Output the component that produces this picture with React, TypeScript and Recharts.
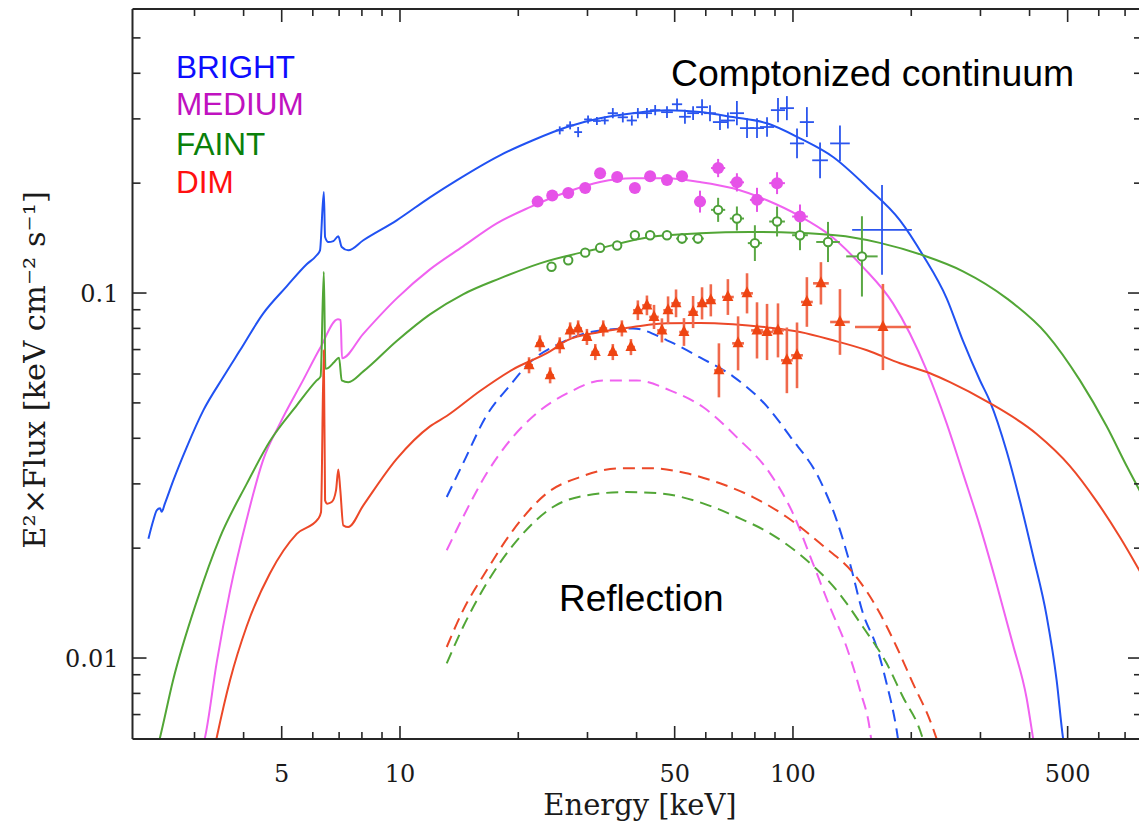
import React from "react";
import { ComposedChart, Line, Scatter, XAxis, YAxis, ErrorBar } from "recharts";

// ---- axes -------------------------------------------------------------
const X_DOMAIN: [number, number] = [2.086, 773];
const Y_DOMAIN: [number, number] = [0.006, 0.6];
const X_MAJOR = [5, 10, 50, 100, 500];
const X_MINOR = [3, 4, 6, 7, 8, 9, 20, 30, 40, 60, 70, 80, 90, 200, 300, 400, 600, 700];
const Y_MAJOR = [0.01, 0.1];
const Y_MINOR = [0.007, 0.008, 0.009, 0.02, 0.03, 0.04, 0.05, 0.06, 0.07, 0.08, 0.09, 0.2, 0.3, 0.4, 0.5];
const X_TICK_LABELS: Record<number, string> = { 5: "5", 10: "10", 50: "50", 100: "100", 500: "500" };
const Y_TICK_LABELS: Record<number, string> = { 0.01: "0.01", 0.1: "0.1" };

// ---- model curves: total (Comptonized continuum + Fe line) -------------
const BRIGHT_MODEL_E = [2.29, 2.357, 2.404, 2.451, 2.475, 2.523, 2.65, 2.867, 3.159, 3.551, 3.917, 4.489, 5.148, 5.788, 6.138, 6.258, 6.4, 6.447, 6.572, 6.767, 6.966, 7.107, 7.386, 8.066, 9.81, 11.92, 13.94, 17.97, 21.8, 26.61, 32.28, 39.16, 47.8, 58.0, 70.37, 85.87, 104.2, 126.5, 154.3, 187.2, 214.2, 246.1, 270.8, 299.2, 317.1, 349.9, 378.2, 408.0, 442.1, 468.8, 486.4, 492];
const BRIGHT_MODEL_F = [0.02122, 0.02384, 0.02539, 0.02571, 0.02515, 0.02653, 0.03068, 0.03785, 0.0477, 0.05887, 0.06966, 0.08798, 0.1043, 0.1199, 0.1269, 0.1309, 0.1891, 0.1424, 0.1379, 0.1388, 0.143, 0.1337, 0.1309, 0.1395, 0.1582, 0.1829, 0.2036, 0.2384, 0.2621, 0.2849, 0.301, 0.3107, 0.3166, 0.3133, 0.3034, 0.2917, 0.2653, 0.2358, 0.1952, 0.1582, 0.1269, 0.0967, 0.0739, 0.0576, 0.0505, 0.0368, 0.02687, 0.01912, 0.01303, 0.00869, 0.00606, 0.00558];

const MEDIUM_MODEL_E = [3.153, 3.19, 3.417, 3.694, 4.073, 4.481, 4.951, 5.665, 6.258, 6.95, 7.06, 7.12, 8.053, 9.81, 11.92, 14.47, 17.63, 21.42, 26.61, 32.28, 39.16, 47.8, 58.0, 70.37, 85.87, 104.2, 124.2, 150.7, 179.7, 218.9, 246.1, 270.8, 299.2, 329.7, 362.8, 393.2, 408.0, 412.8];
const MEDIUM_MODEL_F = [0.00576, 0.00606, 0.00973, 0.01527, 0.02399, 0.0348, 0.04395, 0.05763, 0.07055, 0.0847, 0.0843, 0.0663, 0.0772, 0.0967, 0.1161, 0.1342, 0.1552, 0.1719, 0.1891, 0.2014, 0.2062, 0.2062, 0.2014, 0.1936, 0.1795, 0.1623, 0.1439, 0.1178, 0.0937, 0.0614, 0.04395, 0.03206, 0.02295, 0.01596, 0.0109, 0.00776, 0.00606, 0.00559];

const FAINT_MODEL_E = [2.422, 2.451, 2.645, 3.039, 3.483, 4.073, 4.669, 5.461, 6.138, 6.28, 6.4, 6.46, 6.572, 6.795, 6.996, 7.107, 7.386, 8.066, 9.81, 11.92, 14.47, 17.97, 22.71, 32.28, 43.26, 58.0, 77.73, 104.2, 139.6, 166.4, 214.2, 270.8, 349.9, 442.1, 537.4, 628.4, 706.6, 786.5];
const FAINT_MODEL_F = [0.00576, 0.00606, 0.00868, 0.0143, 0.02142, 0.03, 0.03931, 0.04924, 0.05763, 0.0591, 0.1143, 0.062, 0.0624, 0.0646, 0.0665, 0.05763, 0.057, 0.061, 0.0739, 0.0874, 0.0992, 0.1097, 0.1206, 0.1326, 0.1424, 0.1458, 0.147, 0.146, 0.1424, 0.1372, 0.1269, 0.1147, 0.0967, 0.0772, 0.05763, 0.04313, 0.03357, 0.02704];

const DIM_MODEL_E = [3.363, 3.417, 3.694, 4.073, 4.669, 5.461, 6.196, 6.295, 6.4, 6.447, 6.531, 6.702, 6.874, 6.966, 7.05, 7.173, 7.386, 8.066, 9.81, 11.92, 13.15, 15.98, 19.39, 24.08, 26.61, 32.28, 39.16, 47.8, 58.0, 70.37, 85.87, 104.2, 126.5, 154.3, 187.2, 223.2, 250.9, 311.1, 417.0, 506.8, 592.6, 679.5, 786.5];
const DIM_MODEL_F = [0.00559, 0.00606, 0.00869, 0.01222, 0.01707, 0.02188, 0.02409, 0.02507, 0.0697, 0.02704, 0.02648, 0.02675, 0.0288, 0.03283, 0.0288, 0.0231, 0.02285, 0.0262, 0.03512, 0.04313, 0.04603, 0.05389, 0.0618, 0.0692, 0.0742, 0.0782, 0.0807, 0.0826, 0.0828, 0.0821, 0.0805, 0.0782, 0.0742, 0.0697, 0.0642, 0.0603, 0.057, 0.0505, 0.0411, 0.03357, 0.02687, 0.02142, 0.01633];

// ---- reflection components (dashed) ------------------------------------
const BRIGHT_REFL_E = [13.15, 14.47, 16.62, 19.06, 21.42, 25.53, 32.28, 39.16, 47.8, 58.0, 70.37, 85.87, 98.3, 117.2, 129.2, 139.6, 150.7, 163.3, 173.1, 183.6, 186.1];
const BRIGHT_REFL_F = [0.02761, 0.03415, 0.04623, 0.05587, 0.0646, 0.0728, 0.079, 0.08, 0.0742, 0.0666, 0.0591, 0.0489, 0.0405, 0.03068, 0.02384, 0.01817, 0.01326, 0.01072, 0.00852, 0.00634, 0.00576];

const MEDIUM_REFL_E = [13.15, 14.47, 16.62, 19.06, 22.27, 27.07, 32.85, 40.03, 48.64, 59.02, 71.91, 87.4, 100.0, 112.4, 124.2, 136.9, 148.1, 157.0, 158.9];
const MEDIUM_REFL_F = [0.01973, 0.02434, 0.03206, 0.03948, 0.04682, 0.05356, 0.05763, 0.05763, 0.05413, 0.04871, 0.0403, 0.03206, 0.02491, 0.01817, 0.01379, 0.01072, 0.00816, 0.00634, 0.00576];

const DIM_REFL_E = [13.15, 14.47, 16.62, 19.39, 23.62, 28.71, 36.29, 44.04, 53.64, 65.2, 79.1, 96.4, 117.2, 145.1, 166.4, 183.6, 202.0, 223.2, 235.2];
const DIM_REFL_F = [0.01072, 0.01351, 0.01739, 0.02238, 0.02826, 0.03132, 0.0331, 0.0331, 0.03206, 0.03011, 0.02761, 0.02434, 0.02062, 0.01667, 0.01326, 0.01072, 0.00852, 0.00675, 0.00576];

const FAINT_REFL_E = [13.15, 14.47, 16.62, 20.2, 24.51, 29.87, 37.75, 45.87, 59.02, 71.91, 87.4, 106.0, 129.2, 150.7, 173.1, 190.5, 210.5, 216.7];
const FAINT_REFL_F = [0.00967, 0.01216, 0.01602, 0.02146, 0.02593, 0.02791, 0.0285, 0.02826, 0.02653, 0.02434, 0.02196, 0.01891, 0.01533, 0.01216, 0.00967, 0.00782, 0.00634, 0.00576];

// ---- observed spectra: energy, E^2 F, half-widths of the error bars (dex)
const BRIGHT_E = [25.5, 27.1, 28.4, 30.1, 31.7, 33.2, 34.8, 36.9, 38.9, 40.3, 42.5, 44.6, 47.8, 50.7, 53.1, 55.7, 58.7, 61.5, 65.2, 68.3, 72.0, 76.4, 81.0, 85.9, 91.6, 96.5, 102.4, 108.5, 117.2, 131.7, 168.5];
const BRIGHT_F = [0.279, 0.288, 0.276, 0.299, 0.296, 0.297, 0.311, 0.303, 0.297, 0.311, 0.311, 0.317, 0.313, 0.329, 0.304, 0.311, 0.323, 0.311, 0.294, 0.297, 0.311, 0.283, 0.283, 0.285, 0.317, 0.321, 0.257, 0.294, 0.231, 0.257, 0.149];
const BRIGHT_DX = [0.01, 0.01, 0.01, 0.01, 0.01, 0.01, 0.013, 0.013, 0.013, 0.013, 0.013, 0.013, 0.015, 0.013, 0.015, 0.015, 0.015, 0.015, 0.018, 0.018, 0.018, 0.018, 0.018, 0.018, 0.018, 0.018, 0.018, 0.018, 0.02, 0.025, 0.076];
const BRIGHT_DY = [0.011, 0.011, 0.014, 0.011, 0.011, 0.011, 0.014, 0.014, 0.014, 0.014, 0.014, 0.014, 0.016, 0.016, 0.019, 0.019, 0.022, 0.022, 0.022, 0.022, 0.033, 0.027, 0.027, 0.027, 0.033, 0.033, 0.041, 0.041, 0.049, 0.049, 0.123];

const MEDIUM_E = [22.4, 24.4, 26.8, 29.6, 32.3, 35.7, 39.6, 43.3, 47.8, 52.2, 58.0, 64.5, 72.0, 81.0, 91.1, 104.2];
const MEDIUM_F = [0.178, 0.185, 0.188, 0.194, 0.213, 0.208, 0.194, 0.209, 0.204, 0.209, 0.178, 0.22, 0.201, 0.18, 0.2, 0.162];
const MEDIUM_DX = [0.01, 0.01, 0.01, 0.01, 0.012, 0.012, 0.012, 0.013, 0.013, 0.015, 0.015, 0.018, 0.018, 0.018, 0.02, 0.02];
const MEDIUM_DY = [0.008, 0.008, 0.008, 0.008, 0.01, 0.01, 0.01, 0.012, 0.012, 0.014, 0.03, 0.025, 0.025, 0.033, 0.03, 0.033];

const FAINT_E = [24.3, 26.8, 29.6, 32.3, 35.7, 39.6, 43.3, 47.8, 52.2, 57.3, 64.5, 72.0, 80.0, 91.1, 104.2, 122.8, 149.8];
const FAINT_F = [0.118, 0.123, 0.129, 0.133, 0.135, 0.144, 0.144, 0.144, 0.141, 0.141, 0.169, 0.16, 0.137, 0.157, 0.144, 0.138, 0.126];
const FAINT_DX = [0.01, 0.01, 0.01, 0.01, 0.012, 0.012, 0.013, 0.013, 0.015, 0.015, 0.018, 0.018, 0.018, 0.02, 0.02, 0.03, 0.04];
const FAINT_DY = [0.01, 0.01, 0.01, 0.01, 0.01, 0.012, 0.012, 0.012, 0.014, 0.014, 0.033, 0.033, 0.049, 0.041, 0.041, 0.055, 0.11];

const DIM_E = [21.3, 22.7, 24.1, 25.5, 27.1, 28.4, 29.9, 31.4, 32.9, 34.8, 36.7, 38.7, 40.3, 42.5, 44.3, 46.4, 48.1, 50.4, 52.8, 55.7, 58.7, 61.8, 64.8, 68.3, 72.5, 76.4, 81.0, 85.9, 91.6, 96.5, 102.4, 108.5, 117.8, 131.7, 169.4];
const DIM_F = [0.0634, 0.0728, 0.0595, 0.0719, 0.079, 0.08, 0.0758, 0.0689, 0.08, 0.0689, 0.08, 0.0711, 0.0897, 0.0925, 0.086, 0.079, 0.0897, 0.0937, 0.0782, 0.0887, 0.0937, 0.0955, 0.0614, 0.0975, 0.0728, 0.0998, 0.079, 0.0782, 0.079, 0.0654, 0.0675, 0.0945, 0.1063, 0.0833, 0.0807];
const DIM_DX = [0.01, 0.01, 0.01, 0.01, 0.01, 0.01, 0.01, 0.01, 0.01, 0.01, 0.01, 0.01, 0.012, 0.012, 0.012, 0.012, 0.012, 0.012, 0.012, 0.012, 0.012, 0.012, 0.012, 0.015, 0.015, 0.015, 0.015, 0.015, 0.015, 0.015, 0.015, 0.015, 0.02, 0.025, 0.071];
const DIM_DY = [0.022, 0.022, 0.022, 0.022, 0.022, 0.022, 0.022, 0.022, 0.022, 0.022, 0.022, 0.022, 0.027, 0.027, 0.033, 0.033, 0.038, 0.038, 0.038, 0.044, 0.044, 0.044, 0.074, 0.049, 0.074, 0.055, 0.077, 0.077, 0.074, 0.09, 0.09, 0.068, 0.058, 0.09, 0.118];

// ---- colours -----------------------------------------------------------
const C_BLUE = "#2152f2";
const C_MAGENTA = "#f062f0";
const C_GREEN = "#52a636";
const C_RED = "#ec4828";

type Pt = { e: number; f: number };
type DataPt = Pt & { ex: [number, number]; ey: [number, number] };

const curve = (E: number[], F: number[]): Pt[] => E.map((e, i) => ({ e, f: F[i] }));
const spectrum = (E: number[], F: number[], dx: number[], dy: number[]): DataPt[] =>
  E.map((e, i) => {
    const f = F[i];
    const kx = Math.pow(10, dx[i]);
    const ky = Math.pow(10, dy[i]);
    return { e, f, ex: [e - e / kx, e * kx - e], ey: [f - f / ky, f * ky - f] };
  });

const brightModel = curve(BRIGHT_MODEL_E, BRIGHT_MODEL_F);
const mediumModel = curve(MEDIUM_MODEL_E, MEDIUM_MODEL_F);
const faintModel = curve(FAINT_MODEL_E, FAINT_MODEL_F);
const dimModel = curve(DIM_MODEL_E, DIM_MODEL_F);
const brightRefl = curve(BRIGHT_REFL_E, BRIGHT_REFL_F);
const mediumRefl = curve(MEDIUM_REFL_E, MEDIUM_REFL_F);
const dimRefl = curve(DIM_REFL_E, DIM_REFL_F);
const faintRefl = curve(FAINT_REFL_E, FAINT_REFL_F);

const brightData = spectrum(BRIGHT_E, BRIGHT_F, BRIGHT_DX, BRIGHT_DY);
const mediumData = spectrum(MEDIUM_E, MEDIUM_F, MEDIUM_DX, MEDIUM_DY);
const faintData = spectrum(FAINT_E, FAINT_F, FAINT_DX, FAINT_DY);
const dimData = spectrum(DIM_E, DIM_F, DIM_DX, DIM_DY);

const AXIS_COLOR = "#262626";
const SERIF = "'DejaVu Serif', 'Liberation Serif', serif";
const SANS = "'Liberation Sans', Arial, Helvetica, sans-serif";

const X_TICKS = [...X_MINOR, ...X_MAJOR].sort((a, b) => a - b);
const Y_TICKS = [...Y_MINOR, ...Y_MAJOR].sort((a, b) => a - b);

// tick marks point into the frame on all four sides
const makeXTick = (side: "bottom" | "top") => (props: any) => {
  const { x, y, payload } = props;
  const v = payload.value as number;
  const major = X_MAJOR.includes(v);
  const len = major ? 13 : 7;
  const dir = side === "bottom" ? -1 : 1;
  return (
    <g>
      <line x1={x} x2={x} y1={y} y2={y + dir * len} stroke={AXIS_COLOR} strokeWidth={1.6} />
      {side === "bottom" && major ? (
        <text x={x} y={y + 43} textAnchor="middle" fontFamily={SERIF} fontSize={24} fill="#1a1a1a">
          {X_TICK_LABELS[v]}
        </text>
      ) : null}
    </g>
  );
};

const makeYTick = (side: "left" | "right") => (props: any) => {
  const { x, y, payload } = props;
  const v = payload.value as number;
  const major = Y_MAJOR.includes(v);
  const len = major ? 14 : 8;
  const dir = side === "left" ? 1 : -1;
  return (
    <g>
      <line x1={x} x2={x + dir * len} y1={y} y2={y} stroke={AXIS_COLOR} strokeWidth={1.6} />
      {side === "left" && major ? (
        <text x={x - 14} y={y + 8.5} textAnchor="end" fontFamily={SERIF} fontSize={24} fill="#1a1a1a">
          {Y_TICK_LABELS[v]}
        </text>
      ) : null}
    </g>
  );
};

const noMark = () => <g />;
const filledCircle = (color: string) => (p: any) => <circle cx={p.cx} cy={p.cy} r={6} fill={color} />;
const openCircle = (color: string) => (p: any) => (
  <circle cx={p.cx} cy={p.cy} r={4.2} fill="#ffffff" stroke={color} strokeWidth={2} />
);
const triangle = (color: string) => (p: any) => (
  <path d={`M${p.cx},${p.cy - 7} L${p.cx + 5.5},${p.cy + 4} L${p.cx - 5.5},${p.cy + 4} Z`} fill={color} />
);

const axisLine = { stroke: AXIS_COLOR, strokeWidth: 2 };

const lineCommon = {
  dataKey: "f",
  type: "monotoneX" as const,
  strokeWidth: 2,
  dot: false,
  activeDot: false,
  isAnimationActive: false,
};

export default function App() {
  return (
    <div style={{ position: "absolute", left: 0, top: 0, width: 1139, height: 821, overflow: "hidden", background: "#ffffff" }}>
      <ComposedChart width={1150} height={821} margin={{ top: 8, right: 7, bottom: 0, left: 0 }}>
        <XAxis
          xAxisId="main"
          dataKey="e"
          type="number"
          scale="log"
          domain={X_DOMAIN}
          allowDataOverflow
          ticks={X_TICKS}
          interval={0}
          height={82}
          tickSize={0}
          tickMargin={0}
          tickLine={false}
          axisLine={axisLine}
          tick={makeXTick("bottom")}
        />
        <XAxis
          xAxisId="top"
          orientation="top"
          dataKey="e"
          type="number"
          scale="log"
          domain={X_DOMAIN}
          allowDataOverflow
          ticks={X_TICKS}
          interval={0}
          height={1}
          tickSize={0}
          tickMargin={0}
          tickLine={false}
          axisLine={axisLine}
          tick={makeXTick("top")}
        />
        <YAxis
          yAxisId="main"
          dataKey="f"
          type="number"
          scale="log"
          domain={Y_DOMAIN}
          allowDataOverflow
          ticks={Y_TICKS}
          interval={0}
          width={132.5}
          tickSize={0}
          tickMargin={0}
          tickLine={false}
          axisLine={axisLine}
          tick={makeYTick("left")}
        />
        <YAxis
          yAxisId="right"
          orientation="right"
          dataKey="f"
          type="number"
          scale="log"
          domain={Y_DOMAIN}
          allowDataOverflow
          ticks={Y_TICKS}
          interval={0}
          width={1}
          tickSize={0}
          tickMargin={0}
          tickLine={false}
          axisLine={axisLine}
          tick={makeYTick("right")}
        />

        {/* reflection humps; the faint one is drawn against the top/right frame axes,
            which share the same log scales as the bottom/left ones */}
        <Line {...lineCommon} key="rb" xAxisId="main" yAxisId="main" data={brightRefl} stroke={C_BLUE} strokeDasharray="12 7" />
        <Line {...lineCommon} key="rm" xAxisId="main" yAxisId="main" data={mediumRefl} stroke={C_MAGENTA} strokeDasharray="12 7" />
        <Line {...lineCommon} key="rd" xAxisId="main" yAxisId="main" data={dimRefl} stroke={C_RED} strokeDasharray="12 7" />
        <Line {...lineCommon} key="rf" xAxisId="top" yAxisId="right" data={faintRefl} stroke={C_GREEN} strokeDasharray="12 7" />

        {/* total models */}
        <Line {...lineCommon} key="mb" xAxisId="main" yAxisId="main" data={brightModel} stroke={C_BLUE} />
        <Line {...lineCommon} key="mm" xAxisId="main" yAxisId="main" data={mediumModel} stroke={C_MAGENTA} />
        <Line {...lineCommon} key="mf" xAxisId="main" yAxisId="main" data={faintModel} stroke={C_GREEN} />
        <Line {...lineCommon} key="md" xAxisId="main" yAxisId="main" data={dimModel} stroke={C_RED} />

        {/* observed spectra */}
        <Scatter xAxisId="main" yAxisId="main" data={brightData} dataKey="f" shape={noMark} isAnimationActive={false}>
          <ErrorBar dataKey="ey" direction="y" width={0} stroke="#2b55ee" strokeWidth={1.8} />
          <ErrorBar dataKey="ex" direction="x" width={0} stroke="#2b55ee" strokeWidth={1.8} />
        </Scatter>
        <Scatter xAxisId="main" yAxisId="main" data={mediumData} dataKey="f" shape={filledCircle("#e652e8")} isAnimationActive={false}>
          <ErrorBar dataKey="ey" direction="y" width={0} stroke="#e652e8" strokeWidth={2} />
          <ErrorBar dataKey="ex" direction="x" width={0} stroke="#e652e8" strokeWidth={2} />
        </Scatter>
        <Scatter xAxisId="main" yAxisId="main" data={faintData} dataKey="f" shape={openCircle("#4c9f38")} isAnimationActive={false}>
          <ErrorBar dataKey="ey" direction="y" width={0} stroke="#5aa844" strokeWidth={2} />
          <ErrorBar dataKey="ex" direction="x" width={0} stroke="#5aa844" strokeWidth={2} />
        </Scatter>
        <Scatter xAxisId="main" yAxisId="main" data={dimData} dataKey="f" shape={triangle("#ee4412")} isAnimationActive={false}>
          <ErrorBar dataKey="ey" direction="y" width={0} stroke="#f0694c" strokeWidth={2.6} />
          <ErrorBar dataKey="ex" direction="x" width={0} stroke="#f0694c" strokeWidth={2.6} />
        </Scatter>
      </ComposedChart>

      <svg width={1139} height={821} style={{ position: "absolute", left: 0, top: 0, pointerEvents: "none" }}>
        <text x={176} y={78} fontFamily={SANS} fontSize={31.5} fill="#0d0dff">BRIGHT</text>
        <text x={176} y={115} fontFamily={SANS} fontSize={31.5} fill="#c012c0">MEDIUM</text>
        <text x={176} y={155} fontFamily={SANS} fontSize={31.5} fill="#0a800a">FAINT</text>
        <text x={176} y={193} fontFamily={SANS} fontSize={31.5} fill="#ff1010">DIM</text>
        <text x={671} y={86} fontFamily={SANS} fontSize={37.4} fill="#000000">Comptonized continuum</text>
        <text x={559} y={611} fontFamily={SANS} fontSize={37} fill="#000000">Reflection</text>
        <text x={640} y={815} textAnchor="middle" fontFamily={SERIF} fontSize={29} fill="#1a1a1a">Energy [keV]</text>
        <text
          x={0}
          y={0}
          transform="translate(45 370) rotate(-90)"
          textAnchor="middle"
          fontFamily={SERIF}
          fontSize={30.5}
          fill="#1a1a1a"
        >
          E²×Flux [keV cm⁻² s⁻¹]
        </text>
      </svg>
    </div>
  );
}
